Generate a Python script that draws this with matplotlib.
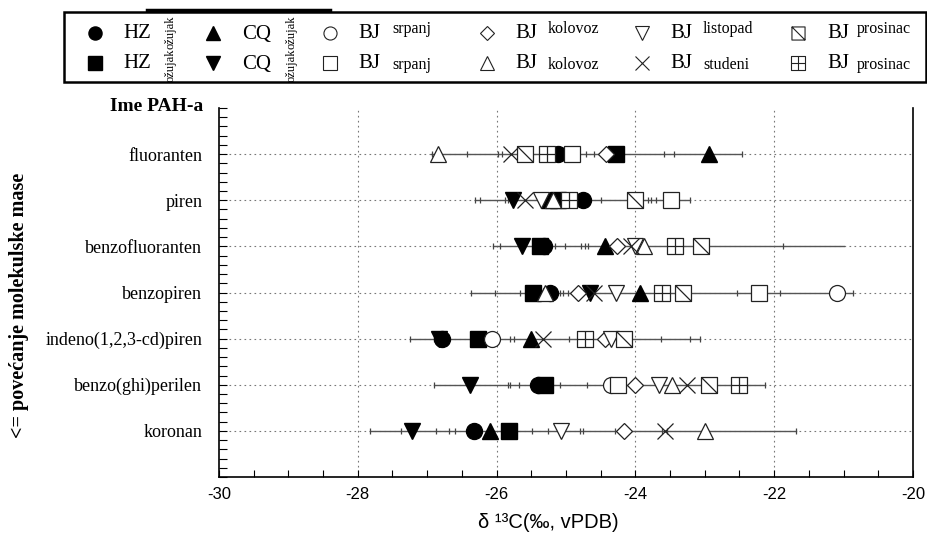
import numpy as np
import matplotlib
matplotlib.use("Agg")
import matplotlib.pyplot as plt
from matplotlib.path import Path
from matplotlib.patches import Rectangle

# ---------------- data ----------------
compounds = ["fluoranten", "piren", "benzofluoranten", "benzopiren",
             "indeno(1,2,3-cd)piren", "benzo(ghi)perilen", "koronan"]
nan = np.nan

# delta13C values per series, one value per compound (NaN = not shown)
hz_circle = [-25.12, -24.76, -25.32, -25.23, -26.78, -25.40, -26.32]
hz_square = [-24.28, -25.12, -25.38, -25.47, -26.27, -25.30, -25.82]
cq_up = [-22.94, -25.24, -24.44, -23.93, -25.51, nan, -26.09]
cq_down = [nan, -25.76, -25.63, -24.65, -26.83, -26.38, -27.22]
bj_jul_circle = [nan, nan, nan, -21.10, -26.07, -24.35, nan]
bj_jul_square = [-24.92, -23.48, nan, -22.22, nan, -24.25, nan]
bj_aug_diamond = [-24.42, nan, -24.27, -24.83, -24.44, -24.00, -24.16]
bj_aug_triangle = [-26.85, -25.19, -23.88, -25.30, nan, -23.47, -22.99]
bj_oct = [nan, -25.36, -24.00, -24.28, -24.35, -23.66, -25.07]
bj_nov = [-25.79, -25.59, -24.07, -24.59, -25.33, -23.25, -23.58]
bj_dec_diag = [-25.59, -24.00, -23.05, -23.32, -24.17, -22.94, nan]
bj_dec_grid = [-25.28, -24.95, -23.43, -23.61, -24.72, -22.51, nan]

# overall range lines and individual tick marks per compound
range_min = [-26.94, -26.31, -26.05, -26.37, -27.25, -26.90, -27.83]
range_max = [-22.47, -23.21, -20.99, -20.86, -23.07, -22.13, -21.68]
row_ticks = [
    [-26.93, -26.88, -26.43, -25.98, -25.92, -24.71, -24.59, -23.59, -23.44, -22.47],
    [-26.31, -26.24, -25.88, -25.83, -24.50, -23.82, -23.78, -23.71, -23.21],
    [-26.05, -25.95, -25.16, -25.02, -24.78, -24.73, -24.68, -21.88],
    [-26.37, -26.02, -25.66, -25.09, -25.04, -24.97, -22.53, -21.91, -20.86],
    [-27.25, -26.90, -25.80, -25.75, -24.95, -23.63, -23.21, -23.07],
    [-26.90, -25.83, -25.81, -25.68, -25.09, -24.70, -22.13],
    [-27.83, -27.38, -26.88, -26.69, -26.60, -25.49, -25.26, -24.80, -24.75,
     -24.30, -23.62, -23.54, -21.68],
]

series_values = [hz_circle, hz_square, cq_up, cq_down, bj_jul_circle, bj_jul_square,
                 bj_aug_diamond, bj_aug_triangle, bj_oct, bj_nov, bj_dec_diag, bj_dec_grid]
series_site = ["HZ", "HZ", "CQ", "CQ", "BJ", "BJ", "BJ", "BJ", "BJ", "BJ", "BJ", "BJ"]
series_month = ["ožujak", "ožujak", "ožujak", "ožujak", "srpanj", "srpanj",
                "kolovoz", "kolovoz", "listopad", "studeni", "prosinac", "prosinac"]
x_ticks = [-30, -28, -26, -24, -22, -20]

# ---------------- styles ----------------
sq_diag = Path([(-1, -1), (1, -1), (1, 1), (-1, 1), (-1, -1), (-1, 1), (1, -1)],
               [Path.MOVETO, Path.LINETO, Path.LINETO, Path.LINETO, Path.CLOSEPOLY,
                Path.MOVETO, Path.LINETO])
sq_grid = Path([(-1, -1), (1, -1), (1, 1), (-1, 1), (-1, -1),
                (0, -1), (0, 1), (-1, 0), (1, 0)],
               [Path.MOVETO, Path.LINETO, Path.LINETO, Path.LINETO, Path.CLOSEPOLY,
                Path.MOVETO, Path.LINETO, Path.MOVETO, Path.LINETO])

styles = [
    dict(marker="o", filled=True, ms=11.5),
    dict(marker="s", filled=True, ms=11.5),
    dict(marker="^", filled=True, ms=11.5),
    dict(marker="v", filled=True, ms=11.5),
    dict(marker="o", filled=False, ms=11.5),
    dict(marker="s", filled=False, ms=11.5),
    dict(marker="D", filled=False, ms=8.5),
    dict(marker="^", filled=False, ms=11.5),
    dict(marker="v", filled=False, ms=11.5),
    dict(marker="x", filled=False, ms=11.5),
    dict(marker=sq_diag, filled=False, ms=11.5),
    dict(marker=sq_grid, filled=False, ms=11.5),
]

serif = ["Liberation Serif", "DejaVu Serif"]
sans = ["Liberation Sans", "DejaVu Sans"]

W, H = 928, 534
fig = plt.figure(figsize=(W / 100, H / 100), dpi=100)
ax_l, ax_r, ax_t, ax_b = 219, 913, 108, 477
ax = fig.add_axes([ax_l / W, 1 - ax_b / H, (ax_r - ax_l) / W, (ax_b - ax_t) / H])

ypos = np.arange(1, len(compounds) + 1)

# grid
for yy in ypos:
    ax.axhline(yy, color="#777777", lw=0.8, ls=(0, (1.5, 3)), zorder=1)
for xx in x_ticks[1:-1]:
    ax.axvline(xx, color="#777777", lw=0.8, ls=(0, (1.5, 3)), zorder=1)

# range lines and tick marks
for i, yy in enumerate(ypos):
    ax.plot([range_min[i], range_max[i]], [yy, yy], color="#555555", lw=1.0, zorder=2)
    ax.plot(row_ticks[i], [yy] * len(row_ticks[i]), ls="none", marker="|",
            ms=5, mew=0.9, color="#444444", zorder=2)

# markers
for vals, st in zip(series_values, styles):
    if st["filled"]:
        ax.plot(vals, ypos, ls="none", marker=st["marker"], ms=st["ms"],
                mfc="black", mec="black", zorder=3)
for vals, st in zip(series_values, styles):
    if not st["filled"]:
        ax.plot(vals, ypos, ls="none", marker=st["marker"], ms=st["ms"],
                mfc="white", mec="#222222", mew=0.9, zorder=4)

ax.set_xlim(-30, -20)
ax.set_ylim(8, 0)
ax.set_xticks(x_ticks)
ax.set_xticklabels([str(v) for v in x_ticks], family=sans, fontsize=12)
ax.set_xticks(np.arange(-30, -19.9, 0.5), minor=True)
ax.set_yticks(ypos)
ax.set_yticklabels(compounds, family=serif, fontsize=13)
ax.set_yticks(np.arange(0, 8.01, 0.2), minor=True)
ax.tick_params(axis="x", which="both", direction="in", length=5, width=0.8,
               pad=7, top=False)
ax.tick_params(axis="y", which="both", direction="in", length=6, width=0.8,
               pad=12, right=False)
for s in ["left", "bottom", "right"]:
    ax.spines[s].set_linewidth(1.2)
ax.spines["top"].set_visible(False)

fig.text(203 / W, 1 - 107 / H, "Ime PAH-a", family=serif, fontsize=14,
         fontweight="bold", ha="right", va="center")
fig.text(19 / W, 1 - 305 / H, "<= povećanje molekulske mase", family=serif,
         fontsize=14.5, fontweight="bold", rotation=90, ha="center", va="center")
fig.text(548 / W, 1 - 523 / H, "δ ¹³C(‰, vPDB)", family=sans, fontsize=14.5,
         ha="center", va="center")

# ---------------- legend ----------------
lax = fig.add_axes([0, 0, 1, 1], facecolor="none")
lax.set_xlim(0, W)
lax.set_ylim(H, 0)
lax.axis("off")
lax.add_patch(Rectangle((64, 12), 862, 70, fill=False, lw=1.8, ec="black"))
lax.plot([147, 330], [10, 10], color="black", lw=2.5)

mk_x = [95, 213, 330, 487, 642, 798]
site_x = [123, 242, 358, 515, 670, 827]
month_x = [171, 292, 392, 548, 703, 857]
row_y = [33, 63]
for i, (site, month, st) in enumerate(zip(series_site, series_month, styles)):
    col, row = i // 2, i % 2
    y = row_y[row]
    ms = st["ms"] * 0.82
    if st["filled"]:
        lax.plot([mk_x[col]], [y], marker=st["marker"], ms=ms, mfc="black",
                 mec="black", ls="none")
    else:
        lax.plot([mk_x[col]], [y], marker=st["marker"], ms=ms, mfc="white",
                 mec="#222222", mew=0.8, ls="none")
    lax.text(site_x[col], y + 1, site, family=serif, fontsize=15,
             ha="left", va="center")
    if site == "BJ":
        lax.text(month_x[col], y - 4 if row == 0 else y + 2, month, family=serif,
                 fontsize=11.5, ha="left", va="center")
    else:
        lax.text(month_x[col], y - 1 if row == 0 else y + 2, month, family=serif,
                 fontsize=9, rotation=90, ha="center", va="center")

fig.savefig("out.png", dpi=100)
